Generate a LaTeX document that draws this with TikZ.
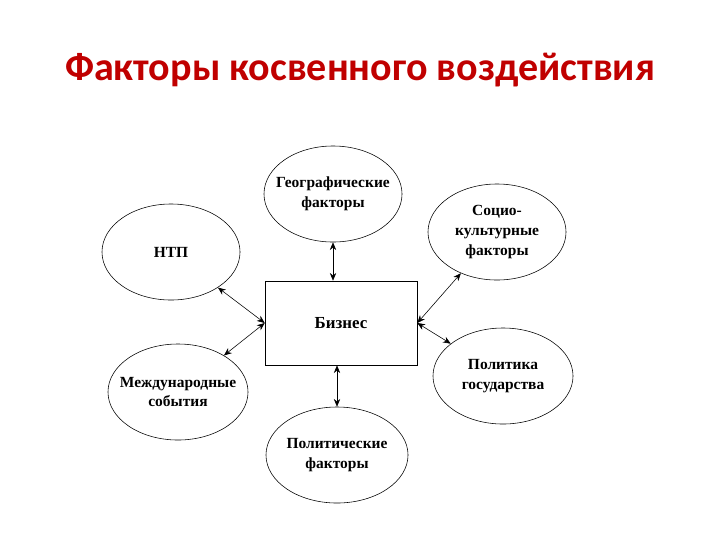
\documentclass[tikz,border=0pt]{standalone}
\usepackage{fontspec}
\setmainfont{Liberation Serif}
\newfontfamily\titlefont{Carlito}
\usetikzlibrary{arrows.meta,shapes.geometric,positioning}
\definecolor{titlered}{RGB}{192,0,0}
\tikzstyle{factor} = [ellipse,draw,thin,minimum width=3.45cm,minimum height=2.4cm,align=center,inner xsep=-20pt,inner ysep=0pt,font=\fontsize{11}{14}\selectfont\bfseries]
\tikzstyle{link} = [{Stealth[length=5.5pt,width=4.5pt]}-{Stealth[length=5.5pt,width=4.5pt]},thin]

\begin{document}
\begin{tikzpicture}[x=0.025cm,y=-0.025cm]
        \useasboundingbox (0,0) rectangle (720,540);
        \node[font=\titlefont\fontsize{28.5}{34}\selectfont\bfseries,text=titlered] (title) at (360,70) {Факторы косвенного воздействия};

        \node[draw,thin,minimum width=3.8cm,minimum height=2.1cm,font=\fontsize{12}{14}\selectfont\bfseries] (box) at (341,323) {Бизнес};

        \node[factor] (geo) at (333,194) {Географические\\факторы};
        \node[factor] (ntp) at (171,252) {НТП};
        \node[factor] (socio) at (497,232) {Социо-\\культурные\\факторы};
        \node[factor,minimum width=3.5cm] (intl) at (178,392) {Международные\\события};
        \node[factor,minimum width=3.55cm] (pol) at (337,455) {Политические\\факторы};
        \node[factor,minimum width=3.5cm] (state) at (503,376) {Политика\\государства};

        \draw[link] (geo.south) to (geo.south |- box.north);
        \draw[link] (pol.north) to (pol.north |- box.south);
        \draw[link] (ntp) to (box.west);
        \draw[link] (intl) to (box.west);
        \draw[link] (socio) to (box.east);
        \draw[link] (state) to (box.east);
    \end{tikzpicture}
\end{document}
